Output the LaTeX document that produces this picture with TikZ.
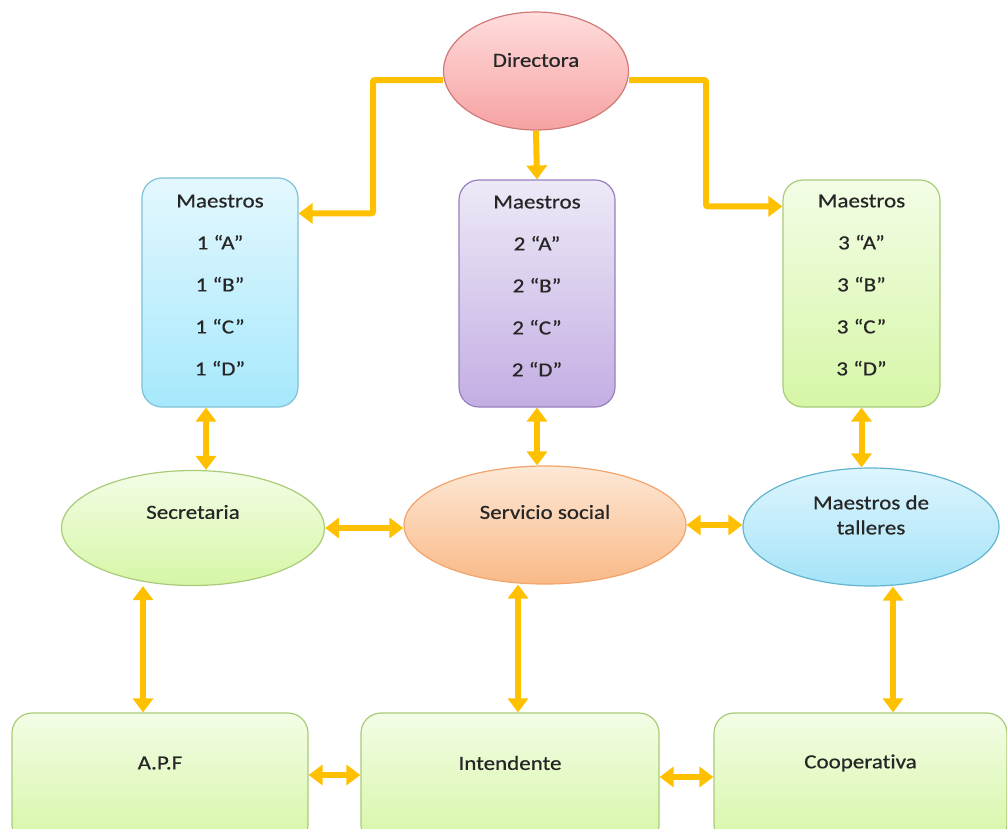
\documentclass[tikz,border=0pt]{standalone}
\usepackage{fontspec}
\setmainfont{Carlito}[FakeStretch=1.15, FakeBold=0.6, Ligatures=CommonOff]
\usetikzlibrary{shapes.geometric,arrows.meta}

\definecolor{naranja}{HTML}{FFC000}
\definecolor{textogris}{HTML}{262626}
\definecolor{rosaA}{HTML}{FFDCDC}\definecolor{rosaB}{HTML}{F6A2A2}\definecolor{rosaL}{HTML}{CF7A78}
\definecolor{cianA}{HTML}{E4F8FE}\definecolor{cianB}{HTML}{A6E8FC}\definecolor{cianL}{HTML}{7DC1D5}
\definecolor{lilaA}{HTML}{EEE9F7}\definecolor{lilaB}{HTML}{C3AEE3}\definecolor{lilaL}{HTML}{9580BD}
\definecolor{verdeA}{HTML}{F3FDE6}\definecolor{verdeB}{HTML}{D6F6A6}\definecolor{verdeL}{HTML}{A9CB78}
\definecolor{duraA}{HTML}{FDE8D6}\definecolor{duraB}{HTML}{F9B987}\definecolor{duraL}{HTML}{F2A46C}
\definecolor{celeA}{HTML}{DEF5FD}\definecolor{celeB}{HTML}{A4E3F8}\definecolor{celeL}{HTML}{63B5CF}

\tikzset{
  caja/.style={rectangle, rounded corners=20pt, inner sep=0pt, line width=1.2pt},
  ovalo/.style={ellipse, inner sep=0pt, line width=1.2pt},
  texto/.style={text=textogris, align=center, font=\fontsize{20}{42}\selectfont},
  texto2/.style={text=textogris, align=center, font=\fontsize{20}{25}\selectfont},
  rosa/.style={top color=rosaA, bottom color=rosaB, draw=rosaL},
  cian/.style={top color=cianA, bottom color=cianB, draw=cianL},
  lila/.style={top color=lilaA, bottom color=lilaB, draw=lilaL},
  verde/.style={top color=verdeA, bottom color=verdeB, draw=verdeL},
  durazno/.style={top color=duraA, bottom color=duraB, draw=duraL},
  celeste/.style={top color=celeA, bottom color=celeB, draw=celeL},
  flecha/.style={draw=naranja, line width=6pt, rounded corners=2pt,
    -{Triangle[width=20pt,length=14pt]}},
  doble/.style={flecha, {Triangle[width=20pt,length=14pt]}-{Triangle[width=20pt,length=14pt]}},
}

\begin{document}
\begin{tikzpicture}[x=1pt, y=-1pt]
\useasboundingbox (0,0) rectangle (1007,828);
\clip (0,0) rectangle (1007,828);

% Directora
\node[ovalo, rosa, minimum width=185pt, minimum height=118pt] (dir) at (536,71) {};
\node[texto] (dirt) at (536,60) {Directora};

% Maestros por grado
\node[caja, cian, minimum width=156pt, minimum height=229pt] (m1) at (220,292.5) {};
\node[caja, lila, minimum width=156pt, minimum height=227pt] (m2) at (537,293.5) {};
\node[caja, verde, minimum width=157pt, minimum height=227pt] (m3) at (861.5,293.5) {};
\node[texto] (m1t) at (220,285) {Maestros\\1 “A”\\1 “B”\\1 “C”\\1 “D”};
\node[texto] (m2t) at (537,286) {Maestros\\2 “A”\\2 “B”\\2 “C”\\2 “D”};
\node[texto] (m3t) at (861.5,285) {Maestros\\3 “A”\\3 “B”\\3 “C”\\3 “D”};

% Fila de ovalos
\node[ovalo, verde, minimum width=263pt, minimum height=115pt] (sec) at (193,528) {};
\node[texto] (sect) at (193,512) {Secretaria};
\node[ovalo, durazno, minimum width=282pt, minimum height=118pt] (ss) at (545,525) {};
\node[texto] (sst) at (545,512) {Servicio social};
\node[ovalo, celeste, minimum width=256pt, minimum height=118pt] (mt) at (871,527) {};
\node[texto2] (mtt) at (871,515) {Maestros de\\talleres};

% Fila inferior
\node[caja, verde, minimum width=296pt, minimum height=132pt] (apf) at (160,779) {};
\node[texto] (apft) at (160,763) {A.P.F};
\node[caja, verde, minimum width=298pt, minimum height=132pt] (int) at (510,779) {};
\node[texto] (intt) at (510,763) {Intendente};
\node[caja, verde, minimum width=293pt, minimum height=132pt] (coop) at (860.5,779) {};
\node[texto] (coopt) at (860.5,763) {Cooperativa};

% Flechas desde la directora
\draw[flecha] ([yshift=-9pt]dir.west) -- (373,80) |- ([yshift=-36pt]m1.north east);
\draw[flecha] (dir.south) -- (m2.north);
\draw[flecha] ([yshift=-9pt]dir.east) -- (706,80) |- ([yshift=-27pt]m3.north west);

% Flechas dobles
\draw[doble] ([xshift=-14pt]m1.south) -- ([xshift=-14pt]m1.south |- sec.north);
\draw[doble] (m2.south) -- (m2.south |- ss.north);
\draw[doble] (m3.south) -- (m3.south |- mt.north);
\draw[doble] (sec.east) -- (sec.east -| ss.west);
\draw[doble] (ss.east) -- (ss.east -| mt.west);
\draw[doble] ([xshift=-50pt]sec.south) -- ([xshift=-50pt]sec.south |- apf.north);
\draw[doble] ([xshift=-27pt]ss.south) -- ([xshift=-27pt]ss.south |- int.north);
\draw[doble] ([xshift=22pt]mt.south) -- ([xshift=22pt]mt.south |- coop.north);
\draw[doble] ([yshift=4pt]apf.east) -- ([yshift=4pt]apf.east -| int.west);
\draw[doble] ([yshift=2pt]int.east) -- ([yshift=2pt]int.east -| coop.west);
\end{tikzpicture}
\end{document}
